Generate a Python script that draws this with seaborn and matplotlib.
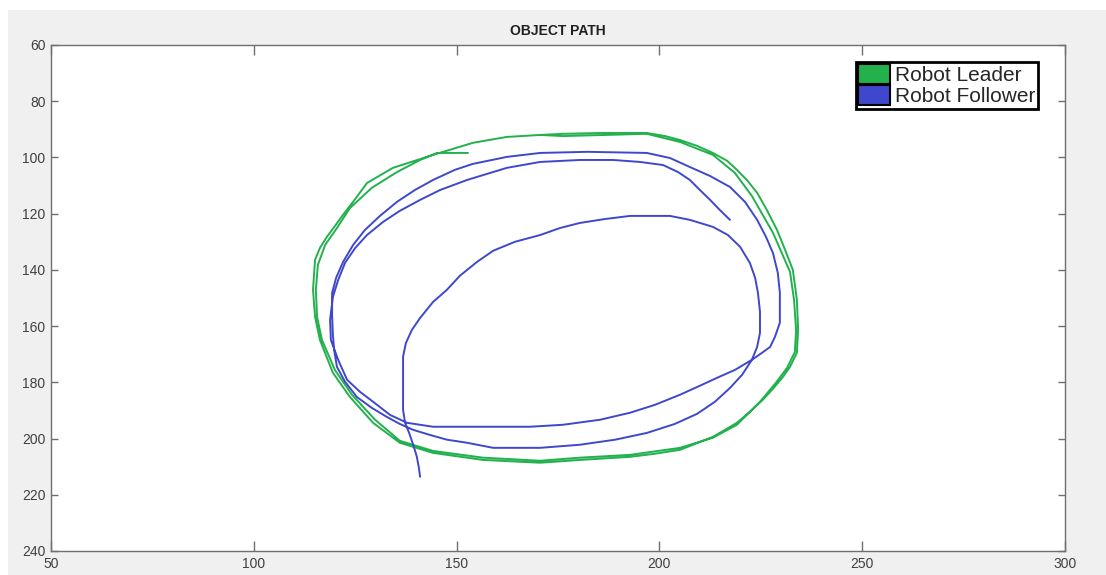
import matplotlib
matplotlib.use("Agg")
import matplotlib.pyplot as plt
import seaborn as sns
import pandas as pd
from matplotlib.patches import Patch, Rectangle

# ---- data ----
leader_x = [170.6, 176.2, 185.4, 196.9, 201.4, 205.1, 209.3, 213.2, 216.7, 219.1, 221.8, 224.1,
            226.5, 229.0, 231.0, 232.9, 233.9, 234.2, 233.9, 232.2, 230.5, 228.0, 225.5, 222.3,
            219.1, 213.2, 205.1, 198.9, 192.8, 180.4, 170.6, 156.5, 144.2, 136.0, 129.4, 123.7,
            119.5, 116.3, 115.1, 114.6, 115.1, 116.3, 118.0, 120.0, 122.0, 125.0, 127.9, 134.3,
            144.2, 154.0, 162.4, 170.6,
            176.2, 196.9, 205.1, 213.2, 218.6, 222.8, 228.0, 232.2, 233.2, 233.7, 233.4, 231.5,
            228.7, 224.8, 219.1, 213.2, 205.1, 192.8, 180.4, 170.6, 156.5, 144.2, 136.0, 129.9,
            124.2, 120.0, 116.8, 115.6, 115.3, 115.8, 117.6, 120.5, 123.7, 129.1, 135.3, 141.0,
            145.2, 152.8]
leader_y = [92.0, 91.6, 91.3, 91.3, 92.4, 93.8, 95.9, 98.4, 101.2, 104.4, 108.4, 112.6,
            118.7, 125.8, 132.9, 140.0, 150.7, 161.3, 169.5, 174.5, 178.0, 182.3, 186.2, 190.5,
            194.4, 199.4, 204.0, 205.4, 206.5, 207.6, 208.6, 207.6, 205.1, 201.5, 194.4, 185.2,
            176.6, 164.9, 156.7, 147.1, 136.4, 132.2, 128.3, 124.4, 120.4, 114.8, 109.1, 103.7,
            99.1, 94.8, 92.7, 92.0,
            92.4, 91.6, 94.5, 99.1, 105.5, 113.7, 126.8, 140.7, 150.7, 161.3, 169.2, 174.8,
            180.2, 186.9, 195.1, 199.7, 203.3, 205.8, 206.8, 207.9, 206.8, 204.4, 200.8, 193.3,
            184.4, 175.6, 164.9, 156.7, 147.1, 138.2, 131.1, 125.1, 118.0, 110.8, 105.2, 100.9,
            98.4, 98.4]

follower_x = [141.0, 140.7, 140.2, 139.3, 138.3, 137.3, 136.8, 136.8, 136.8, 136.8, 137.5, 139.0,
              141.0, 144.2, 147.6, 150.8, 155.0, 159.0, 164.4, 170.6, 175.5, 180.4, 186.6, 192.8,
              202.6, 207.5, 213.2, 216.9, 219.9, 222.3, 223.6, 224.3, 224.8, 224.8, 224.1, 222.8,
              220.4, 217.4, 213.7, 209.3, 203.8, 196.9, 189.1, 180.4, 170.6, 159.0, 152.6, 147.6,
              143.4, 139.3, 136.0, 132.8, 129.1, 125.4, 122.5, 120.5, 119.8, 119.5, 119.3, 119.3,
              120.3, 122.0, 124.5, 127.4, 131.1, 135.3, 139.7, 144.2, 149.6, 154.0, 162.4, 170.6,
              182.2, 196.9, 202.6, 207.5, 212.5, 217.4, 221.1, 224.1, 226.3, 228.0, 229.2, 229.7,
              229.7, 229.7, 228.5, 227.3, 225.3, 222.8, 218.6, 214.2, 210.0, 205.1, 198.9, 192.8,
              185.4, 176.2, 168.1, 153.3, 144.2, 137.8, 133.6, 129.4, 126.2, 123.0, 120.8, 119.0,
              118.8, 119.5, 120.8, 122.5, 125.0, 127.9, 131.9, 136.0, 141.0, 145.9, 152.6, 162.4,
              170.6, 180.4, 188.6, 195.2, 200.9, 204.6, 207.5, 210.0, 212.5, 214.9, 217.4]
follower_y = [213.6, 210.4, 206.5, 202.2, 198.0, 194.4, 189.8, 182.7, 175.6, 170.9, 166.0, 161.3,
              157.1, 151.4, 147.1, 142.1, 137.2, 133.2, 130.0, 127.6, 125.1, 123.3, 121.9, 120.8,
              120.8, 122.2, 124.7, 127.6, 131.8, 137.5, 142.8, 148.2, 154.9, 162.4, 167.4, 172.0,
              177.3, 182.0, 186.9, 191.2, 194.8, 198.0, 200.4, 202.2, 203.3, 203.3, 201.5, 200.4,
              198.7, 196.9, 194.8, 192.3, 189.1, 185.2, 179.8, 174.5, 168.4, 163.1, 156.0, 148.2,
              142.8, 137.2, 131.1, 125.8, 120.8, 115.8, 111.6, 108.0, 104.4, 102.3, 99.8, 98.4,
              98.0, 98.4, 100.2, 103.4, 106.6, 110.5, 115.8, 122.2, 128.3, 134.0, 141.1, 148.2,
              154.2, 158.8, 163.8, 167.4, 169.5, 172.0, 175.6, 178.4, 181.2, 184.4, 188.0, 190.8,
              193.3, 195.1, 195.8, 195.8, 195.8, 194.4, 191.6, 186.9, 183.4, 179.1, 172.0, 164.9,
              157.8, 149.6, 143.6, 137.5, 132.2, 127.6, 122.9, 119.0, 115.1, 111.6, 108.0, 103.7,
              101.6, 100.9, 100.9, 101.6, 102.7, 105.2, 108.0, 111.6, 115.1, 118.7, 122.2]

series_names = ["Robot Leader", "Robot Follower"]
series_colors = ["#22b14c", "#3f48cc"]
x_ticks = [50, 100, 150, 200, 250, 300]
y_ticks = [60, 80, 100, 120, 140, 160, 180, 200, 220, 240]
title_text = "OBJECT PATH"

# ---- figure ----
sns.set_style("white")
plt.rcParams['font.family'] = ['Liberation Sans Narrow', 'Liberation Sans', 'DejaVu Sans']

fig = plt.figure(figsize=(11.06, 5.75), dpi=100)
fig.patch.set_facecolor("white")
fig.add_artist(Rectangle((8 / 1106, 0), 1 - 8 / 1106, 1 - 10 / 575,
                         transform=fig.transFigure, facecolor="#f0f0f0",
                         edgecolor="none", zorder=-10))

ax = fig.add_axes([51 / 1106, 24 / 575, (1065 - 51) / 1106, (551 - 45) / 575])
ax.set_facecolor("white")

lead = pd.DataFrame({"x": leader_x, "y": leader_y})
foll = pd.DataFrame({"x": follower_x, "y": follower_y})
sns.lineplot(data=lead, x="x", y="y", sort=False, estimator=None, ax=ax,
             color=series_colors[0], linewidth=1.4)
sns.lineplot(data=foll, x="x", y="y", sort=False, estimator=None, ax=ax,
             color=series_colors[1], linewidth=1.4)

ax.set_xlim(50, 300)
ax.set_ylim(240, 60)
ax.set_xticks(x_ticks)
ax.set_yticks(y_ticks)
ax.set_xlabel("")
ax.set_ylabel("")
for s in ax.spines.values():
    s.set_color("#707070")
    s.set_linewidth(1.0)
    s.set_visible(True)
ax.tick_params(axis="x", direction="in", length=7, width=1, color="#707070",
               top=True, bottom=True, labelsize=10, labelcolor="#404040", pad=4)
ax.tick_params(axis="y", direction="in", length=5, width=1, color="#707070",
               left=True, right=True, labelsize=10, labelcolor="#404040", pad=4)
ax.set_title(title_text, fontsize=10, fontweight="bold", family=["Liberation Sans", "DejaVu Sans"],
             color="#202020", pad=7)

handles = [Patch(facecolor=c, edgecolor="black", linewidth=1.5, label=n)
           for n, c in zip(series_names, series_colors)]
leg = ax.legend(handles=handles, loc="upper right", bbox_to_anchor=(0.973, 0.966),
                frameon=True, fancybox=False, framealpha=1, edgecolor="black",
                prop={"family": ["Liberation Sans", "DejaVu Sans"], "size": 15},
                handlelength=1.55, handleheight=1.1, handletextpad=0.25,
                labelspacing=0.0, borderpad=0.1, borderaxespad=0)
leg.get_frame().set_linewidth(2.0)

fig.savefig("out.png", dpi=100, facecolor=fig.get_facecolor())
